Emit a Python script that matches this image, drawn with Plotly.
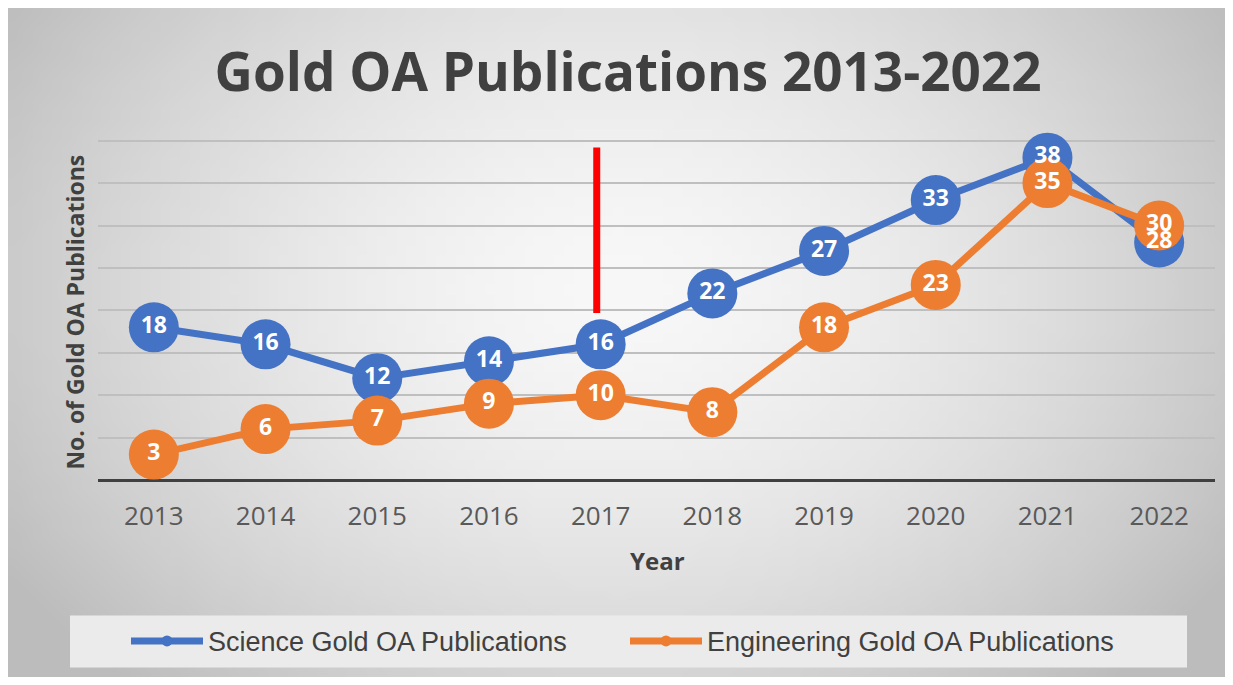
import struct, zlib, base64
import numpy as np
import plotly.graph_objects as go

years = [2013, 2014, 2015, 2016, 2017, 2018, 2019, 2020, 2021, 2022]
science = [18, 16, 12, 14, 16, 22, 27, 33, 38, 28]
engineering = [3, 6, 7, 9, 10, 8, 18, 23, 35, 30]
science_name = "Science Gold OA Publications"
engineering_name = "Engineering Gold OA Publications"
title_text = "Gold OA Publications 2013-2022"
marker_year = 2017
marker_span = [19.7, 39.2]

BLUE = "#4472C4"
ORANGE = "#ED7D31"

# --- radial grey background as a small PNG ---
H, W = 69, 124
yy, xx = np.mgrid[0:H, 0:W]
d = np.sqrt(((xx / (W - 1) - 0.5) / 0.55) ** 2 + ((yy / (H - 1) - 0.42) / 0.75) ** 2)
v = np.clip(248 - 52 * d ** 1.6, 188, 250).astype(np.uint8)
rgb = np.stack([v, v, v], axis=-1)
raw = b"".join(b"\x00" + rgb[r].tobytes() for r in range(H))

def chunk(t, data):
    c = struct.pack(">I", len(data)) + t + data
    return c + struct.pack(">I", zlib.crc32(t + data) & 0xFFFFFFFF)

png = b"\x89PNG\r\n\x1a\n" + chunk(b"IHDR", struct.pack(">IIBBBBB", W, H, 8, 2, 0, 0, 0)) \
    + chunk(b"IDAT", zlib.compress(raw, 9)) + chunk(b"IEND", b"")
bg_uri = "data:image/png;base64," + base64.b64encode(png).decode()

# page offset (body margin) is 8px
OFF = 8
FW, FH = 1217, 669
YTOP = 40.2
unit = 339.5 / 40
L, R, B = 98 - OFF, 1215 - OFF, 480.5 - OFF
T = B - YTOP * unit
pw, ph = R - L, B - T
def px(x):
    return (x - OFF - L) / pw
def py(y):
    return (B - (y - OFF)) / ph

fig = go.Figure()
label_font = dict(family="Open Sans", size=23, color="white")

for vals, col in ((science, BLUE), (engineering, ORANGE)):
    fig.add_trace(go.Scatter(
        x=years, y=vals, mode="lines+markers", showlegend=False, hoverinfo="skip",
        line=dict(color=col, width=7), marker=dict(color=col, size=50), cliponaxis=False))
for vals in (science, engineering):
    fig.add_trace(go.Scatter(
        x=years, y=vals, mode="text", showlegend=False,
        text=[f"<b>{v}</b>" for v in vals], textposition="middle center",
        textfont=label_font, cliponaxis=False))

# legend entries
fig.add_trace(go.Scatter(x=[None], y=[None], mode="lines+markers", name=science_name,
                         line=dict(color=BLUE, width=7), marker=dict(color=BLUE, size=11)))
fig.add_trace(go.Scatter(x=[None], y=[None], mode="lines+markers", name=engineering_name,
                         line=dict(color=ORANGE, width=7), marker=dict(color=ORANGE, size=11)))

fig.add_layout_image(dict(source=bg_uri, xref="paper", yref="paper",
                          x=px(8), y=py(8), sizex=(1228 - 8) / pw, sizey=(678 - 8) / ph,
                          xanchor="left", yanchor="top", sizing="stretch", layer="below"))

fig.add_shape(type="rect", xref="paper", yref="paper",
              x0=px(70), x1=px(1187), y0=py(668), y1=py(616),
              fillcolor="#ebebeb", line=dict(width=0), layer="below")

fig.add_shape(type="line", xref="x", yref="y", x0=marker_year - 0.035, x1=marker_year - 0.035,
              y0=marker_span[0], y1=marker_span[1], line=dict(color="#FF0000", width=7))

fig.add_annotation(text="<b>No. of Gold OA Publications</b>", xref="paper", yref="paper",
                   x=px(75), y=py(313), xanchor="center", yanchor="middle",
                   textangle=-90, showarrow=False,
                   font=dict(family="Open Sans", size=23, color="#404040"))
fig.add_annotation(text="<b>Year</b>", xref="paper", yref="paper",
                   x=px(657), y=py(561), xanchor="center", yanchor="middle", showarrow=False,
                   font=dict(family="Open Sans", size=24, color="#404040"))

fig.update_layout(
    width=FW, height=FH,
    margin=dict(l=L, r=FW - R, t=T, b=FH - B, pad=0),
    paper_bgcolor="white", plot_bgcolor="rgba(0,0,0,0)",
    title=dict(text=f"<b>{title_text}</b>", x=(628 - OFF) / FW, xanchor="center",
               y=1 - (72 - OFF) / FH, yanchor="middle",
               font=dict(family="Open Sans", size=53, color="#404040")),
    xaxis=dict(range=[2012.5, 2022.5], tickvals=years, ticktext=[str(y) for y in years],
               showgrid=False, zeroline=False, showline=False,
               tickfont=dict(family="Open Sans", size=26, color="#595959"),
               ticks="", ticklabelstandoff=18),
    yaxis=dict(range=[0, YTOP], tickvals=[5, 10, 15, 20, 25, 30, 35, 40],
               showticklabels=False, showgrid=True,
               gridcolor="#BFBFBF", gridwidth=2, zeroline=True, zerolinecolor="#404040",
               zerolinewidth=3, showline=False),
    legend=dict(orientation="h", x=px(126), xanchor="left", y=py(642), yanchor="middle",
                bgcolor="rgba(0,0,0,0)", itemwidth=72, entrywidth=412, entrywidthmode="pixels",
                font=dict(family="Liberation Sans Narrow, Arial Narrow, Liberation Sans, sans-serif",
                          size=27, color="#404040")),
    showlegend=True,
)

fig.write_html("out.html")
